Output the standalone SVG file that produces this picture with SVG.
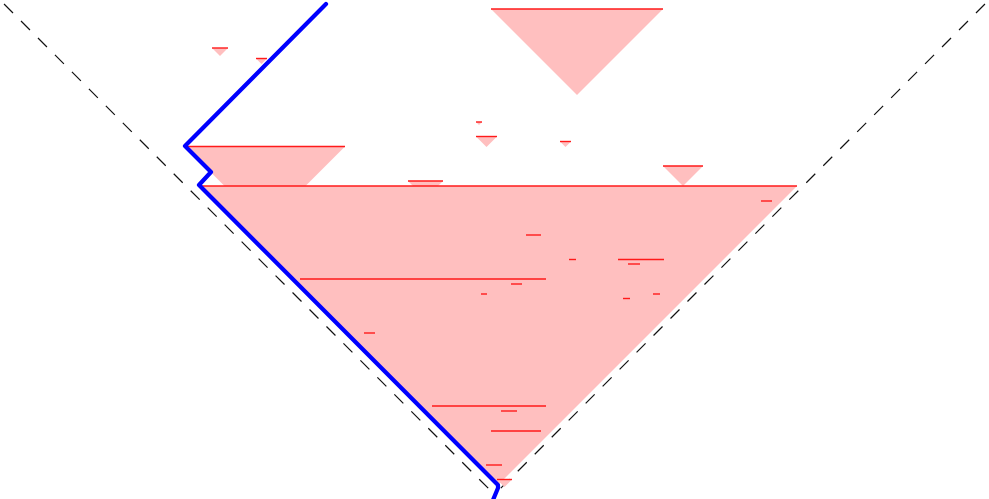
<svg xmlns="http://www.w3.org/2000/svg" width="989" height="499" viewBox="0 0 989 499">
<style>
.t polygon{fill:#ffbfbf;stroke:none}
.t line{stroke:#ff1a1a;stroke-width:1.4}
.d{stroke:#111;stroke-width:1.2;stroke-dasharray:12.7,11.3;stroke-dashoffset:18.3;fill:none}
.b{stroke:#0000ff;stroke-width:4.2;fill:none;stroke-linejoin:round;stroke-linecap:round}
</style>
<rect width="989" height="499" fill="#fff"/>
<g id="bounds">
<line class="d" x1="0" y1="0" x2="494.5" y2="494.5"/>
<line class="d" x1="989" y1="0" x2="494.5" y2="494.5"/>
</g>
<g id="n1" class="t"><polygon points="491,9 663,9 577,95"/><line x1="491" y1="9" x2="663" y2="9"/></g>
<g id="n2" class="t"><polygon points="212,48 228,48 220,56"/><line x1="212" y1="48" x2="228" y2="48"/></g>
<g id="n3" class="t"><polygon points="256,58.5 267,58.5 261.5,64"/><line x1="256" y1="58.5" x2="267" y2="58.5"/></g>
<g id="n4" class="t"><polygon points="476,122 482,122 479,125"/><line x1="476" y1="122" x2="482" y2="122"/></g>
<g id="n5" class="t"><polygon points="476,136.5 497,136.5 486.5,147"/><line x1="476" y1="136.5" x2="497" y2="136.5"/></g>
<g id="n6" class="t"><polygon points="560,141.5 571,141.5 565.5,147"/><line x1="560" y1="141.5" x2="571" y2="141.5"/></g>
<g id="n7" class="t"><polygon points="185,146.5 345,146.5 265,226.5"/><line x1="185" y1="146.5" x2="345" y2="146.5"/></g>
<g id="n8" class="t"><polygon points="663,166 703,166 683,186"/><line x1="663" y1="166" x2="703" y2="166"/></g>
<g id="n9" class="t"><polygon points="408,181 443,181 425.5,198.5"/><line x1="408" y1="181" x2="443" y2="181"/></g>
<g id="n10" class="t"><polygon points="201,186 797,186 499,484"/><line x1="201" y1="186" x2="797" y2="186"/></g>
<g id="n11" class="t"><polygon points="761,201 772,201 766.5,206.5"/><line x1="761" y1="201" x2="772" y2="201"/></g>
<g id="n12" class="t"><polygon points="526,235 541,235 533.5,242.5"/><line x1="526" y1="235" x2="541" y2="235"/></g>
<g id="n13" class="t"><polygon points="569,259.5 576,259.5 572.5,263"/><line x1="569" y1="259.5" x2="576" y2="259.5"/></g>
<g id="n14" class="t"><polygon points="618,259.5 664,259.5 641,282.5"/><line x1="618" y1="259.5" x2="664" y2="259.5"/></g>
<g id="n15" class="t"><polygon points="628,264 640,264 634,270"/><line x1="628" y1="264" x2="640" y2="264"/></g>
<g id="n16" class="t"><polygon points="300,279 546,279 423,402"/><line x1="300" y1="279" x2="546" y2="279"/></g>
<g id="n17" class="t"><polygon points="511,284 522,284 516.5,289.5"/><line x1="511" y1="284" x2="522" y2="284"/></g>
<g id="n18" class="t"><polygon points="481,294 487,294 484,297"/><line x1="481" y1="294" x2="487" y2="294"/></g>
<g id="n19" class="t"><polygon points="653,294 660,294 656.5,297.5"/><line x1="653" y1="294" x2="660" y2="294"/></g>
<g id="n20" class="t"><polygon points="623,298.5 630,298.5 626.5,302"/><line x1="623" y1="298.5" x2="630" y2="298.5"/></g>
<g id="n21" class="t"><polygon points="364,333 375,333 369.5,338.5"/><line x1="364" y1="333" x2="375" y2="333"/></g>
<g id="n22" class="t"><polygon points="432,406 546,406 489,463"/><line x1="432" y1="406" x2="546" y2="406"/></g>
<g id="n23" class="t"><polygon points="501,411 517,411 509,419"/><line x1="501" y1="411" x2="517" y2="411"/></g>
<g id="n24" class="t"><polygon points="491,431 541,431 516,456"/><line x1="491" y1="431" x2="541" y2="431"/></g>
<g id="n25" class="t"><polygon points="486,465 502,465 494,473"/><line x1="486" y1="465" x2="502" y2="465"/></g>
<g id="n26" class="t"><polygon points="497,479.5 512,479.5 504.5,487"/><line x1="497" y1="479.5" x2="512" y2="479.5"/></g>
<g id="connectors">
<path class="b" d="M326,4 L185,146 L211,172 L199,185 L498,485 L498,488 L493,500"/>
</g>
</svg>
